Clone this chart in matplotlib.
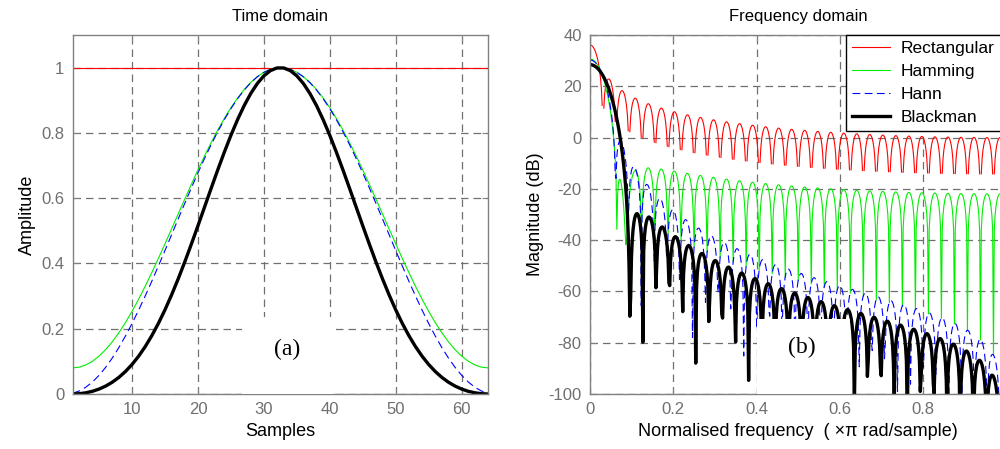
import numpy as np
import matplotlib
matplotlib.use("Agg")
import matplotlib.pyplot as plt
from matplotlib.patches import Rectangle

# window set-up (64-point windows, MATLAB style), freqz-like 512-point grid
n_samples = 64
n_freq = 512
window_names = ['Rectangular', 'Hamming', 'Hann', 'Blackman']
window_colors = ['#ff0000', '#00ee00', '#0000ff', '#000000']
window_styles = ['-', '-', (0, (7, 4)), '-']
window_widths = [0.8, 0.8, 0.8, 2.4]

samples = np.arange(1, n_samples + 1)
windows = [np.ones(n_samples),
           np.hamming(n_samples),
           np.hanning(n_samples + 2)[1:-1],
           np.blackman(n_samples)]

# frequency response, normalised frequency (x pi rad/sample)
freq = np.arange(n_freq) / n_freq
resp_db = []
for w in windows:
    mag = np.abs(np.fft.fft(w, 2 * n_freq)[:n_freq])
    mag[mag < 1e-9] = np.nan   # exact zeros -> -Inf, left out of the line
    resp_db.append(20 * np.log10(mag))

time_xticks = [10, 20, 30, 40, 50, 60]
time_yticks = [0, 0.2, 0.4, 0.6, 0.8, 1]
freq_xticks = [0, 0.2, 0.4, 0.6, 0.8, 1]
freq_yticks = [-100, -80, -60, -40, -20, 0, 20, 40]

plt.rcParams['font.family'] = ['Liberation Sans', 'DejaVu Sans']
plt.rcParams['axes.unicode_minus'] = False

gray = '#6f6f6f'
gridkw = dict(color='#707070', linestyle=(0, (6, 4)), linewidth=0.9)

fig = plt.figure(figsize=(10, 4.49), dpi=100)
ax1 = fig.add_axes([0.0727, 0.1225, 0.4153, 0.7996])
ax2 = fig.add_axes([0.590, 0.1225, 0.4165, 0.7996])

def style(ax):
    ax.grid(True, **gridkw)
    ax.set_axisbelow(True)
    for s in ax.spines.values():
        s.set_color('#808080')
        s.set_linewidth(1.0)
    ax.tick_params(direction='in', length=4, width=0.8, color='#808080',
                   labelcolor=gray, labelsize=12, top=True, right=True, pad=6)

# time domain
for w, name, c, ls, lw in zip(windows, window_names, window_colors, window_styles, window_widths):
    ax1.plot(samples, w, color=c, linestyle=ls, linewidth=lw, label=name)
ax1.set_xlim(1, 64)
ax1.set_ylim(0, 1.1)
ax1.set_xticks(time_xticks)
ax1.set_yticks(time_yticks)
ax1.set_yticklabels(['0', '0.2', '0.4', '0.6', '0.8', '1'])
style(ax1)
ax1.set_title('Time domain', fontsize=12, pad=10)
ax1.set_xlabel('Samples', fontsize=13, labelpad=4)
ax1.set_ylabel('Amplitude', fontsize=13, labelpad=4)
ax1.add_patch(Rectangle((26.7, 0), 13.8, 0.235, facecolor='white', edgecolor='none', zorder=3))
ax1.text(33.6, 0.135, '(a)', family='Liberation Serif', fontsize=17, ha='center', va='center', zorder=4)

# frequency domain
for r, name, c, ls, lw in zip(resp_db, window_names, window_colors, window_styles, window_widths):
    ax2.plot(freq, r, color=c, linestyle=ls, linewidth=lw, label=name)
ax2.set_xlim(0, 1)
ax2.set_ylim(-100, 40)
ax2.set_xticks(freq_xticks)
ax2.set_xticklabels(['0', '0.2', '0.4', '0.6', '0.8', ''])
ax2.set_yticks(freq_yticks)
style(ax2)
ax2.set_title('Frequency domain', fontsize=12, pad=10)
ax2.set_xlabel('Normalised frequency  ( ×π rad/sample)', fontsize=13, labelpad=4)
ax2.set_ylabel('Magnitude (dB)', fontsize=13, labelpad=3)
ax2.add_patch(Rectangle((0.401, -100), 0.223, 29.2, facecolor='white', edgecolor='none', zorder=3))
ax2.text(0.509, -81.7, '(b)', family='Liberation Serif', fontsize=17, ha='center', va='center', zorder=4)

leg = ax2.legend(loc='upper right', bbox_to_anchor=(0.986, 1.0), fontsize=12.5, fancybox=False,
                 framealpha=1, edgecolor='black', borderaxespad=0, handlelength=2.2,
                 handletextpad=0.6, labelspacing=0.45, borderpad=0.35)
leg.get_frame().set_linewidth(1.0)
leg.set_zorder(5)

fig.savefig('out.png', dpi=100)
